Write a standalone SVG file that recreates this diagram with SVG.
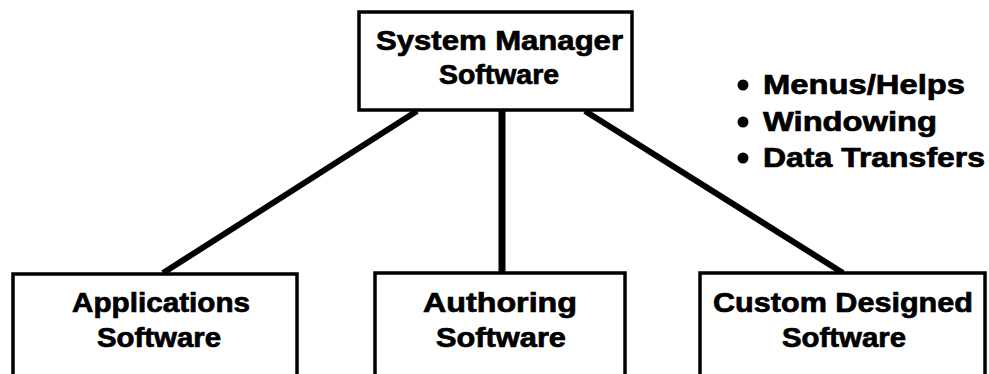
<svg xmlns="http://www.w3.org/2000/svg" width="989" height="374" viewBox="0 0 989 374">
<style>
.box{fill:#fff;stroke:#000;stroke-width:3.5}
.t{font-family:"Liberation Sans",Arial,sans-serif;font-weight:bold;font-size:27px;fill:#000;stroke:#000;stroke-width:0.7}
.c{stroke:#000;stroke-width:6;stroke-linecap:butt}
</style>
<rect width="989" height="374" fill="#fff"/>
<g id="connectors">
<line class="c" x1="417" y1="111" x2="163" y2="273"/>
<line class="c" x1="502" y1="110" x2="502" y2="273" style="stroke-width:7"/>
<line class="c" x1="585" y1="111" x2="843" y2="273"/>
</g>
<g id="system-manager">
<rect class="box" x="359" y="12" width="273" height="98"/>
<text class="t" x="376" y="50" textLength="247" lengthAdjust="spacingAndGlyphs">System Manager</text>
<text class="t" x="439" y="84" textLength="120" lengthAdjust="spacingAndGlyphs">Software</text>
</g>
<g id="features">
<circle cx="743" cy="85" r="5.5"/>
<circle cx="743" cy="122" r="5.5"/>
<circle cx="743" cy="158" r="5.5"/>
<text class="t" x="763" y="94" textLength="202" lengthAdjust="spacingAndGlyphs">Menus/Helps</text>
<text class="t" x="763" y="131" textLength="174" lengthAdjust="spacingAndGlyphs">Windowing</text>
<text class="t" x="763" y="167" textLength="222" lengthAdjust="spacingAndGlyphs">Data Transfers</text>
</g>
<g id="applications">
<rect class="box" x="13" y="274" width="284" height="120"/>
<text class="t" x="72" y="312" textLength="178" lengthAdjust="spacingAndGlyphs">Applications</text>
<text class="t" x="97" y="347" textLength="124" lengthAdjust="spacingAndGlyphs">Software</text>
</g>
<g id="authoring">
<rect class="box" x="375" y="273" width="250" height="120"/>
<text class="t" x="423" y="312" textLength="154" lengthAdjust="spacingAndGlyphs">Authoring</text>
<text class="t" x="436" y="347" textLength="130" lengthAdjust="spacingAndGlyphs">Software</text>
</g>
<g id="custom-designed">
<rect class="box" x="700" y="273" width="285" height="120"/>
<text class="t" x="713" y="312" textLength="260" lengthAdjust="spacingAndGlyphs">Custom Designed</text>
<text class="t" x="782" y="347" textLength="124" lengthAdjust="spacingAndGlyphs">Software</text>
</g>
</svg>
